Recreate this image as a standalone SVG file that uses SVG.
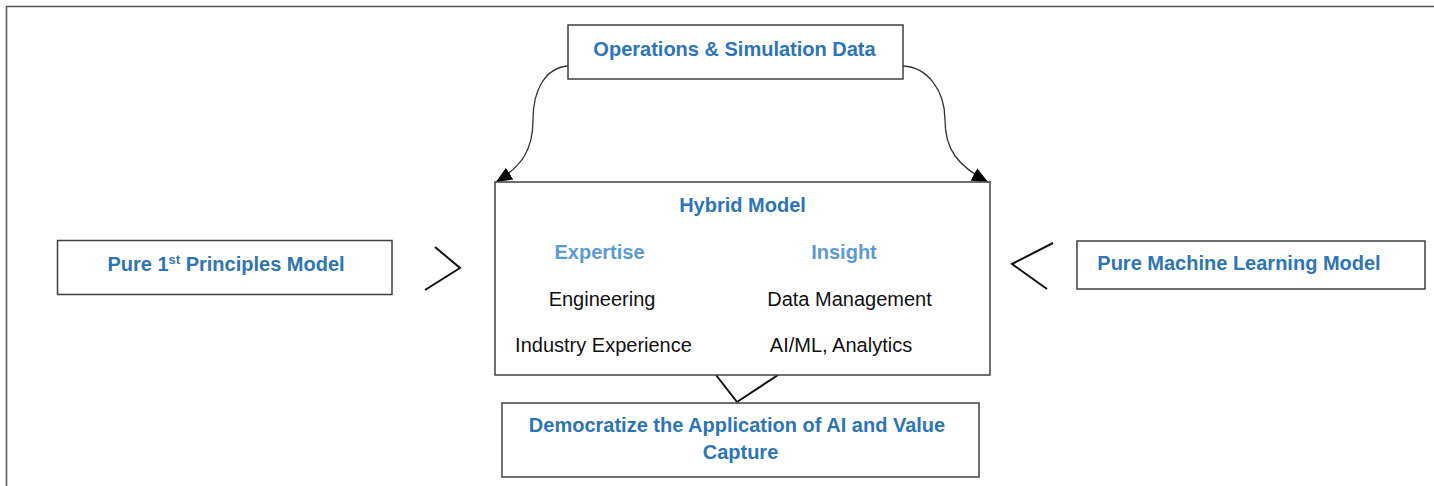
<svg xmlns="http://www.w3.org/2000/svg" width="1434" height="486" viewBox="0 0 1434 486">
<defs>
<style>
.box{fill:#fff;stroke:#404040;stroke-width:1.5}
.t{font-family:"Liberation Sans",Arial,sans-serif;font-size:20px;text-anchor:middle}
.h{font-weight:bold;fill:#2E75B6}
.h2{font-weight:bold;fill:#5B9BD5}
.b{fill:#111}
.ln{fill:none;stroke:#111;stroke-width:2}
.cv{fill:none;stroke:#333;stroke-width:1.3}
</style>
<marker id="ah" markerUnits="userSpaceOnUse" markerWidth="18" markerHeight="16" refX="16" refY="7" orient="auto">
<path d="M0,0 L16,7 L0,14 Z" fill="#000"/>
</marker>
</defs>
<rect width="1434" height="486" fill="#fff"/>
<g id="frame">
<path d="M6.5,486 V6.5 H1434" fill="none" stroke="#555" stroke-width="1.5"/>
</g>
<g id="connectors">
<path class="cv" d="M568,66 C545,68 533,90 533,120 C533,150 522,166 496,182" marker-end="url(#ah)"/>
<path class="cv" d="M903,66 C927,67 945,90 945,120 C945,150 958,166 988,182" marker-end="url(#ah)"/>
<path class="ln" d="M435,247 L460,268 L425,290"/>
<path class="ln" d="M1053,243 L1012,264 L1047,289"/>
<path class="ln" d="M716,375 L737,402 L778,375"/>
</g>
<g id="ops">
<rect class="box" x="568" y="25" width="335" height="54"/>
<text class="t h" x="734.5" y="56">Operations &amp; Simulation Data</text>
</g>
<g id="hybrid">
<rect class="box" x="495" y="182" width="495" height="193"/>
<text class="t h" x="742.5" y="212">Hybrid Model</text>
<text class="t h2" x="599.5" y="259">Expertise</text>
<text class="t h2" x="844" y="259">Insight</text>
<text class="t b" x="602" y="306">Engineering</text>
<text class="t b" x="849.5" y="306">Data Management</text>
<text class="t b" x="603.5" y="352">Industry Experience</text>
<text class="t b" x="841" y="352">AI/ML, Analytics</text>
</g>
<g id="firstprinciples">
<rect class="box" x="57.5" y="240.5" width="334.5" height="54"/>
<text class="t h" x="226" y="271">Pure 1<tspan font-size="13" dy="-7">st</tspan><tspan dy="7"> Principles Model</tspan></text>
</g>
<g id="ml">
<rect class="box" x="1077" y="241" width="348" height="48"/>
<text class="t h" x="1239" y="270">Pure Machine Learning Model</text>
</g>
<g id="democratize">
<rect class="box" x="502" y="403" width="477" height="74"/>
<text class="t h" x="737" y="432">Democratize the Application of AI and Value</text>
<text class="t h" x="740.5" y="459">Capture</text>
</g>
</svg>
